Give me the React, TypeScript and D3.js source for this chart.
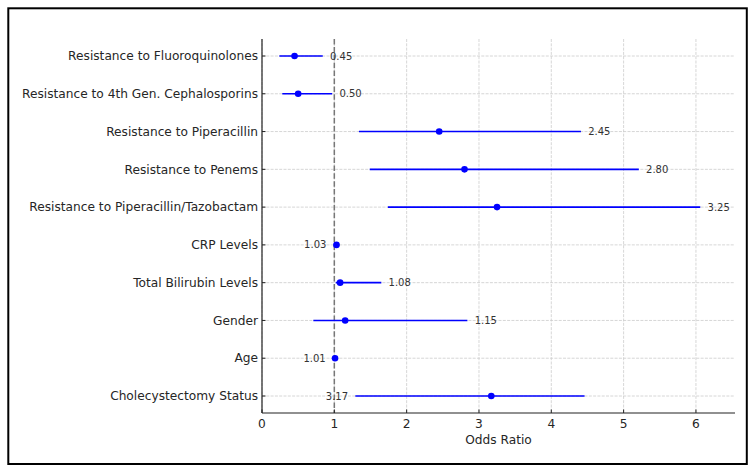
import React from "react";
import * as d3 from "d3";

const categories = [
  "Cholecystectomy Status",
  "Age",
  "Gender",
  "Total Bilirubin Levels",
  "CRP Levels",
  "Resistance to Piperacillin/Tazobactam",
  "Resistance to Penems",
  "Resistance to Piperacillin",
  "Resistance to 4th Gen. Cephalosporins",
  "Resistance to Fluoroquinolones",
];
const oddsRatios = [3.17, 1.01, 1.15, 1.08, 1.03, 3.25, 2.8, 2.45, 0.5, 0.45];
const ciLower = [1.29, 0.98, 0.71, 1.02, 0.99, 1.74, 1.49, 1.34, 0.28, 0.24];
const ciUpper = [4.46, 1.04, 2.84, 1.65, 1.07, 6.06, 5.21, 4.41, 0.97, 0.84];
const labelSide = ["left", "left", "right", "right", "left", "right", "right", "right", "right", "right"];
const xTicks = [0, 1, 2, 3, 4, 5, 6];

const W = 755;
const H = 473;
const left = 262;
const right = 735;
const top = 39;
const bottom = 413;
const FONT = "DejaVu Sans, sans-serif";

export default function App() {
  const x = d3.scaleLinear().domain([0, 6.54]).range([left, right]);
  const y = d3.scaleLinear().domain([-0.45, categories.length - 1 + 0.45]).range([bottom, top]);
  const gridColor = "#cccccc";
  const textColor = "#262626";

  return (
    <svg width={W} height={H} style={{ position: "absolute", left: 0, top: 0, background: "#fff" }}>
      <rect x={8.3} y={8.3} width={738.5} height={455.7} fill="#fff" stroke="#000" strokeWidth={2} />
      {/* grid */}
      {xTicks.map((t) => (
        <line key={"gx" + t} x1={x(t)} x2={x(t)} y1={top} y2={bottom} stroke={gridColor} strokeWidth={0.8} strokeDasharray="3,1.3" />
      ))}
      {categories.map((c, i) => (
        <line key={"gy" + i} x1={left} x2={right} y1={y(i)} y2={y(i)} stroke={gridColor} strokeWidth={0.8} strokeDasharray="3,1.3" />
      ))}
      {/* reference line */}
      <line x1={x(1)} x2={x(1)} y1={top} y2={bottom} stroke="#777" strokeWidth={1.5} strokeDasharray="5.5,2.4" />
      {/* CI lines and points */}
      {categories.map((c, i) => (
        <g key={"m" + i}>
          <line x1={x(ciLower[i])} x2={x(ciUpper[i])} y1={y(i)} y2={y(i)} stroke="#0000ff" strokeWidth={1.6} />
          <circle cx={x(oddsRatios[i])} cy={y(i)} r={3.3} fill="#0000ff" />
        </g>
      ))}
      {/* value labels */}
      {categories.map((c, i) => {
        const isLeft = labelSide[i] === "left";
        const px = isLeft ? x(ciLower[i] - 0.1) : x(ciUpper[i] + 0.1);
        return (
          <text
            key={"v" + i}
            x={px}
            y={y(i)}
            dy="0.35em"
            textAnchor={isLeft ? "end" : "start"}
            fontFamily={FONT}
            fontSize={10}
            fill="#333"
          >
            {oddsRatios[i].toFixed(2)}
          </text>
        );
      })}
      {/* spines */}
      <line x1={left} x2={left} y1={top} y2={bottom} stroke="#222" strokeWidth={1.2} />
      <line x1={left} x2={right} y1={bottom} y2={bottom} stroke="#222" strokeWidth={1.2} />
      {/* y ticks */}
      {categories.map((c, i) => (
        <g key={"yt" + i}>
          <line x1={left} x2={left + 3.5} y1={y(i)} y2={y(i)} stroke="#222" strokeWidth={1} />
          <text x={left - 4} y={y(i)} dy="0.35em" textAnchor="end" fontFamily={FONT} fontSize={12.2} fill={textColor}>
            {c}
          </text>
        </g>
      ))}
      {/* x ticks */}
      {xTicks.map((t) => (
        <g key={"xt" + t}>
          <line x1={x(t)} x2={x(t)} y1={bottom} y2={bottom - 3.5} stroke="#222" strokeWidth={1} />
          <text x={x(t)} y={427.5} textAnchor="middle" fontFamily={FONT} fontSize={12.2} fill={textColor}>
            {t}
          </text>
        </g>
      ))}
      <text x={(left + right) / 2} y={443.5} textAnchor="middle" fontFamily={FONT} fontSize={12.2} fill={textColor}>
        Odds Ratio
      </text>
    </svg>
  );
}
